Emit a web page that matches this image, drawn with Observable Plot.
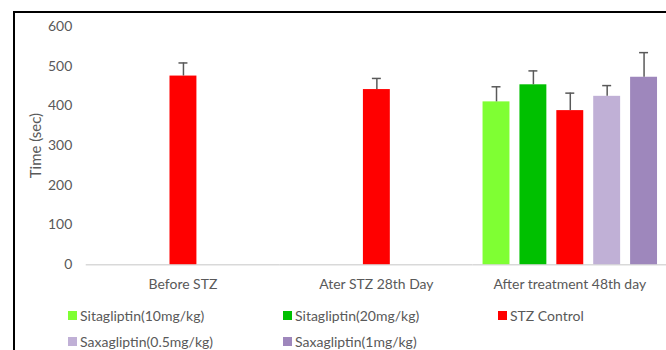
<!DOCTYPE html>
<html>
<head>
<meta charset="utf-8">
<script src="https://cdn.jsdelivr.net/npm/d3@7"></script>
<script src="https://cdn.jsdelivr.net/npm/@observablehq/plot@0.6"></script>
<style>
  html, body { margin: 0; padding: 0; background: #fff; overflow: hidden; width: 666px; height: 350px; }
  #wrap { position: relative; width: 666px; height: 350px; }
  #frame { position: absolute; left: 13px; top: 11px; width: 700px; height: 400px; border-left: 2px solid #000; border-top: 2px solid #000; pointer-events: none; }
  #chart { position: absolute; left: 0; top: 0; }
  #chart svg g[aria-label="y-axis label"] text { font-size: 15px; }
  #legend { position: absolute; left: 68px; top: 302px; display: grid; grid-template-columns: 215px 215px 215px; grid-auto-rows: 26px; font: 14px Lato, sans-serif; color: #595959; }
  .item { display: flex; align-items: center; white-space: nowrap; }
  .sw { width: 9px; height: 9px; margin-right: 3px; flex: none; }
</style>
</head>
<body>
<div id="wrap">
  <div id="chart"></div>
  <div id="legend"></div>
  <div id="frame"></div>
</div>
<script>
const groups = ["Before STZ", "Ater STZ 28th Day", "After treatment 48th day"];
const series = ["Sitagliptin(10mg/kg)", "Sitagliptin(20mg/kg)", "STZ Control", "Saxagliptin(0.5mg/kg)", "Saxagliptin(1mg/kg)"];
const colors = ["#7fff33", "#00c000", "#ff0000", "#c0b0d6", "#9e87bc"];
// means per group (null = not measured)
const beforeSTZ = [null, null, 475, null, null];
const afterSTZ28 = [null, null, 441, null, null];
const afterTreat48 = [410, 453, 388, 424, 472];
// upper error (SEM) per group
const errBeforeSTZ = [null, null, 33, null, null];
const errAfterSTZ28 = [null, null, 28, null, null];
const errAfterTreat48 = [38, 35, 44, 27, 62];
const yTicks = [0, 100, 200, 300, 400, 500, 600];

const means = [beforeSTZ, afterSTZ28, afterTreat48];
const errs = [errBeforeSTZ, errAfterSTZ28, errAfterTreat48];
const data = [];
groups.forEach((g, gi) => series.forEach((s, si) => {
  if (means[gi][si] != null) data.push({group: g, series: s, value: means[gi][si], top: means[gi][si] + errs[gi][si]});
}));

const chart = Plot.plot({
  width: 668,
  height: 296,
  marginLeft: 85,
  marginRight: 0,
  marginTop: 26,
  marginBottom: 31,
  style: {fontFamily: "Lato, sans-serif", fontSize: "14px", color: "#595959", background: "transparent"},
  fx: {domain: groups, padding: 0, label: null, axis: "bottom", tickSize: 0, tickPadding: 14},
  x: {domain: series, paddingInner: 0.28, paddingOuter: 0.22, axis: null},
  y: {domain: [0, 600], ticks: yTicks, tickSize: 0, tickPadding: 14, label: "Time (sec)", labelArrow: false, labelAnchor: "center", labelOffset: 56, tickFormat: d3.format("d")},
  color: {domain: series, range: colors},
  marks: [
    Plot.ruleY([0], {stroke: "#d9d9d9", strokeWidth: 1.5}),
    Plot.barY(data, {fx: "group", x: "series", y: "value", fill: "series"}),
    Plot.ruleX(data, {fx: "group", x: "series", y1: "value", y2: "top", stroke: "#595959", strokeWidth: 1.5}),
    Plot.tickY(data, {fx: "group", x: "series", y: "top", stroke: "#595959", strokeWidth: 1.5, insetLeft: 9, insetRight: 9})
  ]
});
document.getElementById("chart").appendChild(chart);

const legend = document.getElementById("legend");
series.forEach((s, i) => {
  const it = document.createElement("div");
  it.className = "item";
  const sw = document.createElement("span");
  sw.className = "sw";
  sw.style.background = colors[i];
  const tx = document.createElement("span");
  tx.textContent = s;
  it.appendChild(sw);
  it.appendChild(tx);
  legend.appendChild(it);
});
</script>
</body>
</html>
